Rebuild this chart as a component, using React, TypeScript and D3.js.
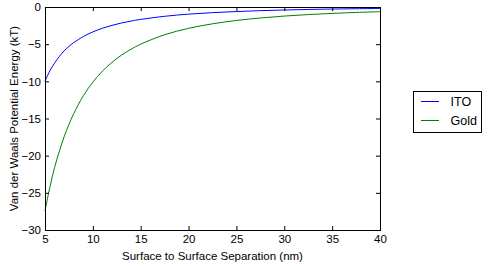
import React, { useRef, useEffect } from 'react'
import * as d3 from 'd3'

// separation (nm)
const separation = [5, 5.5, 6, 6.5, 7, 7.5, 8, 9, 10, 11, 12, 13, 14, 15, 17.5, 20, 22.5, 25, 27.5, 30, 32.5, 35, 37.5, 40]
// potential energy (kT)
const ito = [-10, -8.6, -7.55, -6.65, -5.9, -5.3, -4.8, -3.98, -3.35, -2.86, -2.47, -2.15, -1.89, -1.67, -1.25, -0.96, -0.76, -0.61, -0.49, -0.4, -0.33, -0.275, -0.233, -0.198]
const gold = [-27.4, -24.3, -21.6, -19.4, -17.45, -15.8, -14.35, -11.95, -10.1, -8.63, -7.44, -6.47, -5.67, -5.0, -3.73, -2.87, -2.26, -1.81, -1.48, -1.22, -1.02, -0.86, -0.73, -0.63]

const xTicks = [5, 10, 15, 20, 25, 30, 35, 40]
const yTicks = [0, -5, -10, -15, -20, -25, -30]

const seriesNames = ['ITO', 'Gold']
const seriesColors = ['#0000ff', '#008000']

const W = 488
const H = 266
const FONT = "'Liberation Sans', Arial, sans-serif"

const App = () => {
  const svgRef = useRef<SVGSVGElement>(null)

  useEffect(() => {
    const svg = d3.select(svgRef.current)
    svg.selectAll('*').remove()

    const margin = { top: 7, right: 108, bottom: 36, left: 45 }
    const width = W - margin.left - margin.right
    const height = H - margin.top - margin.bottom

    const x = d3.scaleLinear().domain([5, 40]).range([0, width])
    const y = d3.scaleLinear().domain([-30, 0]).range([height, 0])

    const g = svg.append('g').attr('transform', `translate(${margin.left},${margin.top})`)

    const series = [ito, gold]
    const line = d3
      .line<number>()
      .x((_, i) => x(separation[i]))
      .y((d) => y(d))
      .curve(d3.curveCatmullRom)

    series.forEach((vals, k) => {
      g.append('path')
        .datum(vals)
        .attr('d', line)
        .attr('fill', 'none')
        .attr('stroke', seriesColors[k])
        .attr('stroke-width', 1)
    })

    const styleAxis = (sel) => {
      sel.select('.domain').remove()
      sel.selectAll('line').attr('stroke', '#000')
      sel.selectAll('text').attr('fill', '#000').style('font-family', FONT).style('font-size', '11.5px')
    }

    g.append('g')
      .attr('transform', `translate(0,${height})`)
      .call(d3.axisBottom(x).tickValues(xTicks).tickSize(-4).tickPadding(5).tickFormat(d3.format('d')))
      .call(styleAxis)

    g.append('g')
      .call(d3.axisTop(x).tickValues(xTicks).tickSize(-4).tickFormat(() => ''))
      .call(styleAxis)

    g.append('g')
      .call(d3.axisLeft(y).tickValues(yTicks).tickSize(-4).tickPadding(4).tickFormat(d3.format('d')))
      .call(styleAxis)

    g.append('g')
      .attr('transform', `translate(${width},0)`)
      .call(d3.axisRight(y).tickValues(yTicks).tickSize(-4).tickFormat(() => ''))
      .call(styleAxis)

    g.append('rect')
      .attr('x', 0.5)
      .attr('y', 0.5)
      .attr('width', width)
      .attr('height', height)
      .attr('fill', 'none')
      .attr('stroke', '#000')
      .attr('stroke-width', 1)

    svg.append('text')
      .attr('x', margin.left + width / 2)
      .attr('y', 260)
      .attr('text-anchor', 'middle')
      .style('font-family', FONT)
      .style('font-size', '11.5px')
      .text('Surface to Surface Separation (nm)')

    svg.append('text')
      .attr('transform', `translate(17.5,${margin.top + height / 2}) rotate(-90)`)
      .attr('text-anchor', 'middle')
      .style('font-family', FONT)
      .style('font-size', '11.5px')
      .text('Van der Waals Potential Energy (kT)')

    // legend
    const lg = svg.append('g').attr('transform', 'translate(413.5,91.5)')
    lg.append('rect')
      .attr('width', 68)
      .attr('height', 41)
      .attr('fill', '#fff')
      .attr('stroke', '#000')
      .attr('stroke-width', 1)
    seriesNames.forEach((name, k) => {
      const ly = 10 + k * 19
      lg.append('line')
        .attr('x1', 7.5)
        .attr('x2', 25.5)
        .attr('y1', ly)
        .attr('y2', ly)
        .attr('stroke', seriesColors[k])
        .attr('stroke-width', 1)
      lg.append('text')
        .attr('x', 37)
        .attr('y', ly)
        .attr('dy', '0.35em')
        .style('font-family', FONT)
        .style('font-size', '12.5px')
        .text(name)
    })
  }, [])

  return (
    <svg
      ref={svgRef}
      width={W}
      height={H}
      style={{ position: 'absolute', left: 0, top: 0, background: '#fff' }}
    />
  )
}

export default App
